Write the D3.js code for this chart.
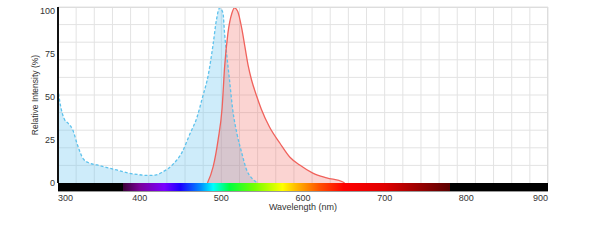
<!DOCTYPE html>
<html>
<head>
<meta charset="utf-8">
<script src="https://cdn.jsdelivr.net/npm/d3@7"></script>
<style>
body { margin: 0; background: #fff; }
text { font-family: "Liberation Sans", Arial, sans-serif; fill: #333; }
</style>
</head>
<body>
<svg id="chart"></svg>
<script>
let width = 607;
let height = 252;
let margin = {"top": 7, "left": 58, "right": 59, "bottom": 69};

// excitation spectrum (nm, %)
const exWave = [300, 302, 305, 308, 312, 318, 324, 331, 339, 348, 360, 372, 384, 397, 409, 419, 428, 441, 452, 461, 470, 477, 484, 490, 494, 498, 502, 504, 507, 510, 514, 519, 525, 531, 537, 545];
const exVal = [55, 48, 41, 37, 35, 31, 22, 14, 11.5, 10.5, 9, 7.6, 6, 5, 4.4, 4.6, 6.4, 11, 18, 28, 38, 50, 63, 81, 95, 102, 99, 87, 73, 60, 42.5, 29, 17.5, 7.6, 3, 0];

// emission spectrum (nm, %)
const emWave = [483, 490, 496, 501, 504, 508, 513, 516, 520, 525, 529, 533, 537, 543, 549, 559, 572, 584, 596, 612, 629, 649, 651];
const emVal = [0, 9.5, 25, 44, 67.5, 87, 99, 102, 100, 90, 79, 68, 60, 51, 43, 32.6, 23, 15, 10.5, 5.8, 3, 0.6, 0];

const xTicks = [300, 400, 500, 600, 700, 800, 900];
const yTicks = [0, 25, 50, 75, 100];

// visible spectrum colour bar
const specWave = [380, 400, 430, 450, 475, 490, 510, 540, 575, 590, 620, 650, 700, 780];
const specColor = ["#3a0038", "#7a009a", "#7a00ff", "#1a00ff", "#0090ff", "#00ffff", "#00ff40", "#70ff00", "#ffff00", "#ffc000", "#ff5000", "#ff0000", "#e00000", "#5a0000"];

let svg = d3.select("#chart")
    .attr("width", width)
    .attr("height", height);

let plotW = width - margin.left - margin.right;
let plotH = height - margin.top - margin.bottom;

let x = d3.scaleLinear().domain([300, 900]).range([margin.left, margin.left + plotW]);
let y = d3.scaleLinear().domain([0, 102.5]).range([margin.top + plotH, margin.top]);

// grid
let grid = svg.append("g");
grid.selectAll("line.v")
    .data(d3.range(1, 28))
    .enter().append("line")
    .attr("x1", (d) => margin.left + d * plotW / 27)
    .attr("x2", (d) => margin.left + d * plotW / 27)
    .attr("y1", margin.top)
    .attr("y2", margin.top + plotH)
    .style("stroke", "#e3e3e3");
grid.selectAll("line.h")
    .data(d3.range(0, 10))
    .enter().append("line")
    .attr("x1", margin.left)
    .attr("x2", margin.left + plotW)
    .attr("y1", (d) => margin.top + d * plotH / 10)
    .attr("y2", (d) => margin.top + d * plotH / 10)
    .style("stroke", "#e3e3e3");

let exData = exWave.map((w, i) => ({w: w, v: exVal[i]}));
let emData = emWave.map((w, i) => ({w: w, v: emVal[i]}));

let area = d3.area()
    .x((d) => x(d.w))
    .y0(y(0))
    .y1((d) => y(d.v))
    .curve(d3.curveMonotoneX);
let line = d3.line()
    .x((d) => x(d.w))
    .y((d) => y(d.v))
    .curve(d3.curveMonotoneX);

svg.append("path").datum(exData)
    .attr("d", area)
    .style("fill", "rgba(110,200,240,0.34)");
svg.append("path").datum(emData)
    .attr("d", area)
    .style("fill", "rgba(240,100,95,0.28)");
svg.append("path").datum(exData)
    .attr("d", line)
    .style("fill", "none")
    .style("stroke", "#5ec2ec")
    .style("stroke-width", 1.3)
    .style("stroke-dasharray", "3,2");
svg.append("path").datum(emData)
    .attr("d", line)
    .style("fill", "none")
    .style("stroke", "#f0625c")
    .style("stroke-width", 1.3);

// spectrum bar
let grad = svg.append("defs").append("linearGradient")
    .attr("id", "spec")
    .attr("gradientUnits", "userSpaceOnUse")
    .attr("x1", x(300)).attr("x2", x(900))
    .attr("y1", 0).attr("y2", 0);
let stops = [{o: 300, c: "#000"}, {o: 379.9, c: "#000"}]
    .concat(specWave.map((w, i) => ({o: w, c: specColor[i]})))
    .concat([{o: 780.1, c: "#000"}, {o: 900, c: "#000"}]);
grad.selectAll("stop")
    .data(stops)
    .enter().append("stop")
    .attr("offset", (d) => (d.o - 300) / 600)
    .attr("stop-color", (d) => d.c);

svg.append("rect")
    .attr("x", x(300))
    .attr("y", margin.top + plotH)
    .attr("width", plotW)
    .attr("height", 8)
    .style("fill", "url(#spec)");
svg.append("line")
    .attr("x1", x(300)).attr("x2", x(900))
    .attr("y1", margin.top + plotH + 8.5).attr("y2", margin.top + plotH + 8.5)
    .style("stroke", "#999");

// frame
svg.append("line")
    .attr("x1", margin.left).attr("x2", margin.left + plotW)
    .attr("y1", margin.top + 0.5).attr("y2", margin.top + 0.5)
    .style("stroke", "#ddd");
svg.append("line")
    .attr("x1", margin.left + plotW - 0.5).attr("x2", margin.left + plotW - 0.5)
    .attr("y1", margin.top).attr("y2", margin.top + plotH)
    .style("stroke", "#ddd");
svg.append("line")
    .attr("x1", margin.left).attr("x2", margin.left)
    .attr("y1", margin.top).attr("y2", margin.top + plotH)
    .style("stroke", "#111")
    .style("stroke-width", 2);

// tick labels
svg.selectAll("text.xt")
    .data(xTicks)
    .enter().append("text")
    .attr("x", (d) => x(d))
    .attr("y", 201)
    .attr("text-anchor", (d) => d == 300 ? "start" : (d == 900 ? "end" : "middle"))
    .style("font-size", "9px")
    .text((d) => d);
svg.selectAll("text.yt")
    .data(yTicks)
    .enter().append("text")
    .attr("x", 55)
    .attr("y", (d) => y(d) + 3)
    .attr("text-anchor", "end")
    .style("font-size", "9px")
    .text((d) => d);

svg.append("text")
    .attr("x", margin.left + plotW / 2)
    .attr("y", 210)
    .attr("text-anchor", "middle")
    .style("font-size", "9px")
    .text("Wavelength (nm)");
svg.append("text")
    .attr("transform", "translate(38, 95) rotate(-90)")
    .attr("text-anchor", "middle")
    .style("font-size", "8.5px")
    .text("Relative Intensity (%)");
</script>
</body>
</html>
